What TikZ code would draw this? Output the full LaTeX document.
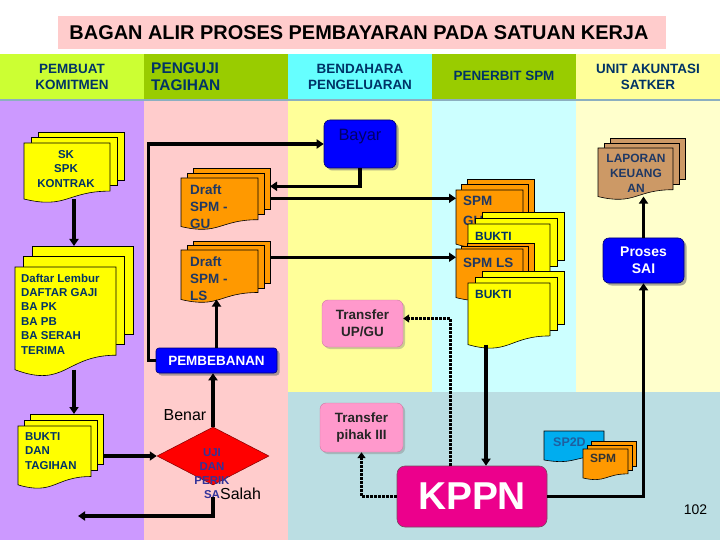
\documentclass[tikz,border=0pt]{standalone}
\usepackage{fontspec}
\setmainfont{Liberation Sans}
\usetikzlibrary{arrows.meta,calc,shapes.geometric,shadows}
\definecolor{titlepink}{HTML}{FFCCCC}
\definecolor{hlime}{HTML}{CCFF33}
\definecolor{holive}{HTML}{99CC00}
\definecolor{hcyan}{HTML}{66FFFF}
\definecolor{hyellow}{HTML}{FFFF99}
\definecolor{lpurple}{HTML}{CC99FF}
\definecolor{lpink}{HTML}{FFCCCC}
\definecolor{lyellow}{HTML}{FFFF99}
\definecolor{lcyan}{HTML}{CCFFFF}
\definecolor{lcream}{HTML}{FFFFCC}
\definecolor{lteal}{HTML}{BBDEE3}
\definecolor{hline}{HTML}{8CAFC0}
\definecolor{navyc}{HTML}{003366}
\definecolor{draftc}{HTML}{1F3864}
\definecolor{docyellow}{HTML}{FFFF00}
\definecolor{docorange}{HTML}{FF9900}
\definecolor{wood}{HTML}{CC9966}
\definecolor{pinkbox}{HTML}{FF99CC}
\definecolor{ujic}{HTML}{333399}
\definecolor{sp2dc}{HTML}{1F5F9F}
\definecolor{bayartext}{HTML}{000066}
\newcommand\myfs[2]{\fontsize{#1}{#2}\selectfont}
% single document sheet: x, y (top-left), w, h, fill
\newcommand\docsheet[5]{%
  \filldraw[docline, fill=#5] (#1,#2) -- ({#1+#3},#2) -- ({#1+#3},{#2+0.802*#4})
    .. controls ({#1+0.5*#3},{#2+0.802*#4}) and ({#1+0.5*#3},{#2+1.107*#4}) .. (#1,{#2+0.934*#4}) -- cycle;}
% stack of three sheets: name, x, y, w, h, dx, dy, fill
\newcommand\docstack[8]{%
  \foreach \i in {2,1}{%
    \filldraw[docline, fill=#8] ({#2+\i*#6},{#3-\i*#7}) rectangle ({#2+\i*#6+#4},{#3-\i*#7+0.802*#5});
  }%
  \docsheet{#2}{#3}{#4}{#5}{#8}%
  \node[inner sep=0, outer sep=0, minimum width={(#4+2*#6)*1bp}, minimum height={(2*#7+0.934*#5)*1bp}, anchor=north west] (#1) at (#2,{#3-2*#7}) {};%
}
\newcommand\docone[6]{%
  \docsheet{#2}{#3}{#4}{#5}{#6}%
  \node[inner sep=0, outer sep=0, minimum width={#4*1bp}, minimum height={0.934*#5*1bp}, anchor=north west] (#1) at (#2,#3) {};%
}
\begin{document}
\begin{tikzpicture}[x=1bp,y=-1bp,
  docline/.style={draw=black, line width=0.6bp},
  arr/.style={line width=3.5bp, -{Triangle[length=7bp,width=9bp]}},
  dotarr/.style={line width=3bp, dash pattern=on 2.5bp off 1.5bp, -{Triangle[length=6bp,width=8bp]}},
  hdr/.style={font=\bfseries\myfs{13.5}{16}, text=navyc, align=center, inner sep=0},
  doctext/.style={font=\bfseries\myfs{11.5}{14.4}, text=navyc, align=left, inner sep=0, anchor=west},
  drafttext/.style={font=\bfseries\myfs{13.5}{17}, text=draftc, align=left, inner sep=0, anchor=west},
  bluebox/.style={fill=blue, draw=blue!45!black, line width=0.6bp, rounded corners=5bp,
    drop shadow={shadow xshift=2.5bp, shadow yshift=-2.5bp, fill=black!55, opacity=0.6}, inner sep=0},
  pinkbx/.style={fill=pinkbox, draw=pinkbox!80!black, line width=0.4bp, rounded corners=6bp,
    drop shadow={shadow xshift=2bp, shadow yshift=-2bp, fill=black!50, opacity=0.4}, inner sep=0,
    font=\bfseries\myfs{13.5}{17}, text=black!85, align=center},
  lbl/.style={font=\myfs{16}{18}, text=black, inner sep=0}
]
\useasboundingbox (0,0) rectangle (720,540);
\fill[white] (0,0) rectangle (720,540);
% title
\fill[titlepink] (58,16) rectangle (666,49);
\node[font=\bfseries\myfs{20}{22}, inner sep=0] (title) at (359,33) {BAGAN ALIR PROSES PEMBAYARAN PADA SATUAN KERJA};
% header cells
\fill[hlime] (0,54) rectangle (144,100);
\fill[holive] (144,54) rectangle (288,100);
\fill[hcyan] (288,54) rectangle (432,100);
\fill[holive] (432,54) rectangle (576,100);
\fill[hyellow] (576,54) rectangle (720,100);
% lanes
\fill[lpurple] (0,101.5) rectangle (144,540);
\fill[lpink] (144,101.5) rectangle (288,540);
\fill[lyellow] (288,101.5) rectangle (432,392);
\fill[lcyan] (432,101.5) rectangle (576,392);
\fill[lcream] (576,101.5) rectangle (720,392);
\fill[lteal] (288,392) rectangle (720,540);
\draw[hline, line width=2bp] (0,100.5) -- (720,100.5);
% header texts
\node[hdr] (h1) at (72,77) {PEMBUAT\\KOMITMEN};
\node[font=\bfseries\myfs{15.5}{17}, text=navyc, align=left, inner sep=0, anchor=west] (h2) at (151,76.5) {PENGUJI\\TAGIHAN};
\node[hdr] (h3) at (360,77) {BENDAHARA\\PENGELUARAN};
\node[hdr] (h4) at (504,76) {PENERBIT SPM};
\node[hdr] (h5) at (648,77) {UNIT AKUNTASI\\SATKER};

% ---- documents, lane 1
\docstack{sk}{24}{143}{86}{60}{7}{5.5}{docyellow}
\node[doctext, align=center, anchor=center] (skt) at (66,169) {SK\\SPK\\KONTRAK};
\docstack{daftar}{15}{267}{101}{110}{8.5}{10.5}{docyellow}
\node[doctext] (daftart) at (21,314) {Daftar Lembur\\DAFTAR GAJI\\BA PK\\BA PB\\BA SERAH\\TERIMA};
\docstack{btag}{18}{426}{73}{63}{6}{6}{docyellow}
\node[doctext] (btagt) at (25,451) {BUKTI\\DAN\\TAGIHAN};

% ---- lane 2
\docstack{dgu}{181}{178}{77}{52}{6}{5}{docorange}
\node[drafttext] (dgut) at (190,207) {Draft\\SPM -\\GU};
\docstack{dls}{181}{250}{77}{53}{6}{4.5}{docorange}
\node[drafttext] (dlst) at (190,279) {Draft\\SPM -\\LS};
\node[bluebox, minimum width=121bp, minimum height=25bp, rounded corners=3bp,
  font=\bfseries\myfs{13.5}{15}, text=white] (pemb) at (216.5,360.5) {PEMBEBANAN};
\node[diamond, fill=red, draw=red!50!black, line width=0.5bp, minimum width=112bp, minimum height=58bp, inner sep=0] (uji) at (213,456) {};
\node[font=\bfseries\myfs{11.5}{14}, text=ujic, align=center, inner sep=0] (ujit) at (212,474) {UJI\\DAN\\PERIK\\SA};
\node[lbl] (benar) at (185,415) {Benar};
\node[lbl, anchor=west] (salah) at (220,494) {Salah};
\coordinate (salahend) at (78,516);

% ---- lane 3
\node[bluebox, minimum width=72bp, minimum height=48bp, rounded corners=6bp] (bayar) at (360,144) {};
\node[font=\myfs{16.5}{18}, text=bayartext, inner sep=0] (bayart) at (360,137) {Bayar};
\node[pinkbx, minimum width=81bp, minimum height=47bp] (tup) at (362.5,323.5) {Transfer\\UP/GU};
\node[pinkbx, minimum width=83bp, minimum height=49bp] (tp3) at (361.5,427.5) {Transfer\\pihak III};

% ---- lane 4 stacks
\docstack{spmgu}{456}{190}{67}{58}{5.5}{5.5}{docorange}
\node[drafttext] (spmgut) at (463,211) {SPM\\[3bp]GU};
\docstack{b1}{468}{224}{82}{60}{7}{6}{docyellow}
\node[doctext, font=\bfseries\myfs{12}{14}] (b1t) at (475,236) {BUKTI};
\docstack{spmls}{456}{249}{67}{52}{5.5}{3}{docorange}
\node[drafttext] (spmlst) at (463,263) {SPM LS};
\docstack{b2}{468}{283}{82}{66}{7}{6}{docyellow}
\node[doctext, font=\bfseries\myfs{12}{14}] (b2t) at (475,294) {BUKTI};

% ---- lane 5
\docstack{lap}{598}{148}{75}{52}{6}{5}{wood}
\node[font=\bfseries\myfs{12}{15}, text=draftc, align=center, inner sep=0] (lapt) at (636,173) {LAPORAN\\KEUANG\\AN};
\node[bluebox, minimum width=81bp, minimum height=45bp, rounded corners=6bp,
  font=\bfseries\myfs{14}{17}, text=white, align=center] (sai) at (643.5,260.5) {Proses\\SAI};

% ---- bottom
\node[fill=magenta, draw=magenta!40!black, line width=0.6bp, rounded corners=8bp, minimum width=150bp, minimum height=61bp,
  inner sep=0, font=\bfseries\myfs{39}{40}, text=white] (kppn) at (472,496.5) {KPPN};
\docone{sp2d}{544}{431}{60}{31}{cyan}
\node[font=\bfseries\myfs{12.5}{14}, text=sp2dc, inner sep=0, anchor=west] (sp2dt) at (553,442) {SP2D};
\docstack{spms}{583}{449}{45}{31}{4}{4}{docorange}
\node[font=\bfseries\myfs{12}{14}, text=black!80, inner sep=0, anchor=west] (spmst) at (590,458) {SPM};
\node[font=\myfs{14}{16}, inner sep=0] (pnum) at (695.5,510) {102};

% ---- connectors
\draw[arr] (sk.south) -- (sk.south |- daftar.north);
\draw[arr] (daftar.south) -- (daftar.south |- btag.north);
\draw[arr] (uji.west -| btag.east) -- (uji.west);
\draw[arr] (uji.north) -- (uji.north |- pemb.south);
\draw[arr] ($(uji.south)+(0,12)$) |- (salahend);
\draw[arr] (pemb.north) -- (pemb.north |- dls.south);
\draw[arr] (pemb.west) -- ++(-7,0) |- (bayar.west);
\draw[arr] (bayar.south) |- ($(dgu.east)+(0,-11)$);
\coordinate (dguout) at ($(dgu.east)+(0,1)$);
\draw[arr] (dguout) -- (dguout -| spmgu.west);
\coordinate (dlsout) at ($(dls.east)+(0,-13)$);
\draw[arr] (dlsout) -- (dlsout -| spmls.west);
\coordinate (b2out) at ($(b2.south west)+(18,0)$);
\draw[arr] (b2out) -- (b2out |- kppn.north);
\draw[arr] (kppn.east) -| (sai.south);
\draw[arr] (sai.north) -- (sai.north |- lap.south);
\coordinate (kpu) at ($(kppn.north west)+(54,0)$);
\draw[dotarr] (kpu) |- ($(tup.east)+(0,-5)$);
\draw[dotarr] (kppn.west) -| (tp3.south);
\end{tikzpicture}
\end{document}
